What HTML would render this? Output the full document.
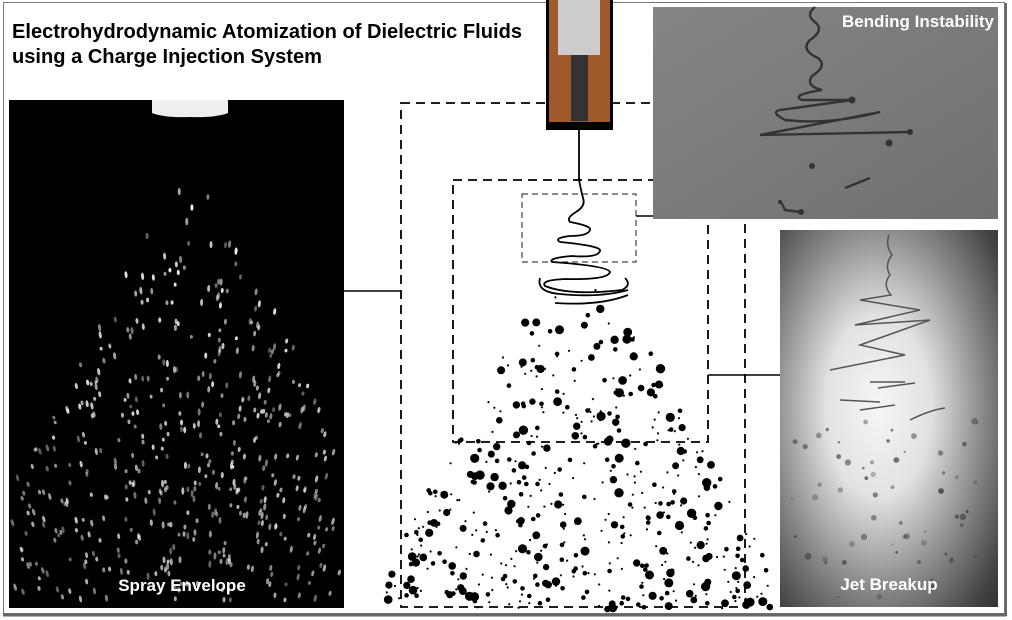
<!DOCTYPE html>
<html><head><meta charset="utf-8"><style>
html,body{margin:0;padding:0;background:#fff;width:1012px;height:620px;overflow:hidden}
svg{display:block}
text{font-family:"Liberation Sans",Arial,sans-serif;font-weight:bold}
</style></head><body>
<svg id="s" width="1012" height="620" viewBox="0 0 1012 620" xmlns="http://www.w3.org/2000/svg">
<defs>
<linearGradient id="gt" x1="0" y1="0" x2="1" y2="1"><stop offset="0" stop-color="#858585"/><stop offset="1" stop-color="#707070"/></linearGradient>
<radialGradient id="gb" cx="0.45" cy="0.47" r="0.8" fx="0.45" fy="0.47"><stop offset="0" stop-color="#f6f6f6"/><stop offset="0.3" stop-color="#e2e2e2"/><stop offset="0.6" stop-color="#8a8a8a"/><stop offset="0.85" stop-color="#444"/><stop offset="1" stop-color="#2a2a2a"/></radialGradient>
</defs>
<rect x="3.5" y="2.5" width="1001" height="611" fill="none" stroke="#777" stroke-width="1"/>
<line x1="3" y1="615" x2="1006" y2="615" stroke="#666" stroke-width="3"/>
<line x1="1006" y1="3" x2="1006" y2="616" stroke="#666" stroke-width="2"/>
<text x="12" y="38" font-size="20" fill="#000" textLength="510" lengthAdjust="spacingAndGlyphs">Electrohydrodynamic Atomization of Dielectric Fluids</text>
<text x="12" y="63" font-size="20" fill="#000" textLength="310" lengthAdjust="spacingAndGlyphs">using a Charge Injection System</text>
<rect x="9" y="100" width="335" height="508" fill="#000"/>
<path d="M152 100 H228 V113 Q215 118 190 117 Q165 118 152 113Z" fill="#eee"/>
<g id="lp"></g>
<text x="182" y="591" font-size="17" fill="#fff" text-anchor="middle">Spray Envelope</text>
<g fill="none" stroke="#000" stroke-width="1.8" stroke-dasharray="9,6">
<rect x="401" y="103" width="344" height="504"/>
<rect x="453" y="180" width="255" height="262"/>
</g>
<rect x="522" y="194" width="114" height="68" fill="none" stroke="#444" stroke-width="1.2" stroke-dasharray="6,4"/>
<g stroke="#000" stroke-width="1.6">
<line x1="344" y1="291" x2="401" y2="291"/>
<line x1="636" y1="216" x2="653" y2="216"/>
<line x1="708" y1="375" x2="780" y2="375"/>
</g>
<g id="dots"></g>
<rect x="546" y="0" width="67" height="130" fill="#000"/>
<rect x="549" y="0" width="61" height="122" fill="#a0592a"/>
<rect x="558" y="0" width="42" height="55" fill="#ccc"/>
<rect x="571" y="55" width="17" height="66" fill="#333"/>
<path d="M579 122 L579 180 Q581 190 583 198 Q586 206 576 212 Q566 218 570 222 Q592 226 590 230 Q588 236 570 236 Q553 238 560 242 Q602 246 600 251 Q598 258 572 256 Q548 258 552 262 Q608 266 610 272 Q608 280 566 279 Q540 280 545 286 Q570 296 622 290 Q632 285 625 278 M540 278 Q536 292 560 294 Q600 298 628 290 M555 303 Q600 306 628 295" fill="none" stroke="#000" stroke-width="1.8"/>
<rect x="653" y="7" width="345" height="212" fill="url(#gt)"/>
<g fill="none" stroke="#333" stroke-width="2.4">
<path d="M815 7 Q805 15 815 22 Q825 30 810 40 Q800 50 818 58 Q828 66 812 76 Q805 86 822 90 Q790 95 802 100 Q830 100 852 100"/>
<path d="M852 100 L780 110 Q770 112 785 120 Q830 125 880 112 L760 135 L910 132"/>
<path d="M845 188 L870 178"/>
<path d="M780 200 L785 210 L800 212"/>
</g>
<g fill="#333"><circle cx="852" cy="100" r="3.5"/><circle cx="910" cy="132" r="3"/><circle cx="889" cy="143" r="3.5"/><circle cx="812" cy="166" r="3"/><circle cx="801" cy="212" r="3"/><circle cx="780" cy="202" r="2"/></g>
<text x="994" y="27" font-size="17" fill="#fff" text-anchor="end">Bending Instability</text>
<rect x="780" y="230" width="218" height="377" fill="url(#gb)"/>
<g fill="none" stroke="#555" stroke-width="1.5">
<path d="M889 235 Q885 245 892 255 Q884 265 890 275 Q882 285 891 295 L860 300 L920 310 L855 325 L930 320 L860 345 L905 355 L830 370 M870 382 L905 382 M840 400 L880 402 M860 410 L895 405 M910 420 Q930 410 945 408 M878 388 L915 383"/>
</g>
<g fill="#555" id="bp"></g>
<text x="889" y="590" font-size="17" fill="#fff" text-anchor="middle">Jet Breakup</text>
</svg>
<script>
var s=12345;function r(){s=(s*16807)%2147483647;return s/2147483647;}
var NS="http://www.w3.org/2000/svg";
function c(g,x,y,rad,f){var e=document.createElementNS(NS,"circle");e.setAttribute("cx",x.toFixed(1));e.setAttribute("cy",y.toFixed(1));e.setAttribute("r",rad.toFixed(1));if(f)e.setAttribute("fill",f);g.appendChild(e);}
var d=document.getElementById("dots");
for(var i=0;i<520;i++){var t=Math.sqrt(r());var y=288+t*322;var hw=40+t*175;var x=578+(r()*2-1)*hw;if(x<385||x>770)continue;var rr=r();c(d,x,y,rr<0.45?1.1:(rr<0.75?2.3:(3.2+r()*1.5)),"#000");}
var l=document.getElementById("lp");
for(var i=0;i<560;i++){var t=Math.sqrt(r());var y=190+t*410;var hw=20+t*220;var x=190+(r()*2-1)*hw;if(x<12||x>340)continue;var e=document.createElementNS(NS,"ellipse");e.setAttribute("cx",x);e.setAttribute("cy",y);e.setAttribute("rx",1.5);e.setAttribute("ry",1.8+r()*2);var a=0.35+r()*0.65*(1-0.5*t);e.setAttribute("fill","rgba(255,255,255,"+a.toFixed(2)+")");e.setAttribute("transform","rotate("+((x-190)/10).toFixed(0)+" "+x+" "+y+")");l.appendChild(e);}
var b=document.getElementById("bp");
for(var i=0;i<60;i++){var x=790+r()*200,y=420+r()*180;c(b,x,y,1+r()*2.5,"rgba(60,60,60,"+(0.3+r()*0.5).toFixed(2)+")");}
</script>
</body></html>
